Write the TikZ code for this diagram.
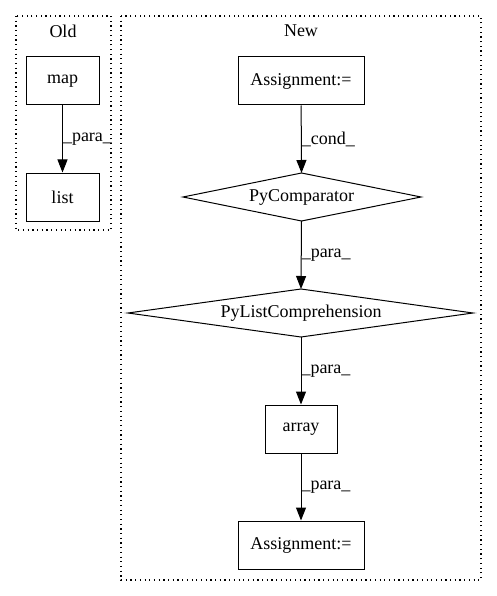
\documentclass[tikz,border=0pt]{standalone}
\usepackage{fontspec}
\setmainfont{Liberation Serif}
\usetikzlibrary{arrows.meta,shapes.geometric}
\begin{document}
\begin{tikzpicture}[x=1pt,y=-1pt,
  every node/.style={font=\fontsize{18}{20}\selectfont},
  box/.style={draw,line width=1pt,inner sep=0,rectangle},
  shapeline/.style={line width=1pt},
  cluster/.style={draw,line width=1.1pt,dash pattern=on 1.2pt off 3.5pt},
  edge/.style={line width=1pt,-{Triangle[length=13pt,width=10pt]}},
  elabel/.style={anchor=west,inner sep=0}]
\useasboundingbox (0,0) rectangle (497,596);
% clusters
\draw[cluster] (16,16) rectangle (111,230);
\node (oldt) at (63,31) {Old};
\draw[cluster] (121,16) rectangle (481,580);
\node (newt) at (301,31) {New};
% old nodes
\node[box,minimum width=73pt,minimum height=48pt] (map) at (62.5,81) {map};
\node[box,minimum width=73pt,minimum height=48pt] (list) at (62.5,197) {list};
\draw[edge] (map) -- (list) node[pos=0.5,elabel] {\_para\_};
% new nodes
\node[box,minimum width=126pt,minimum height=48pt] (a1) at (301,81) {Assignment:=};
\draw[shapeline] (183,197) -- (301.5,173) -- (421,197) -- (301.5,221) -- cycle;
\coordinate (pcN) at (301.5,173);
\coordinate (pcS) at (301.5,221);
\node (pc) at (301.5,197) {PyComparator};
\draw[shapeline] (128,313) -- (301,289) -- (473,313) -- (301,337) -- cycle;
\coordinate (plN) at (301,289);
\coordinate (plS) at (301,337);
\node (pl) at (301,313) {PyListComprehension};
\node[box,minimum width=72pt,minimum height=48pt] (arr) at (301,429) {array};
\node[box,minimum width=126pt,minimum height=48pt] (a2) at (301,545) {Assignment:=};
\draw[edge] (a1) -- (pcN) node[pos=0.5,elabel] {\_cond\_};
\draw[edge] (pcS) -- (plN) node[pos=0.5,elabel] {\_para\_};
\draw[edge] (plS) -- (arr) node[pos=0.5,elabel] {\_para\_};
\draw[edge] (arr) -- (a2) node[pos=0.5,elabel] {\_para\_};
\end{tikzpicture}
\end{document}
